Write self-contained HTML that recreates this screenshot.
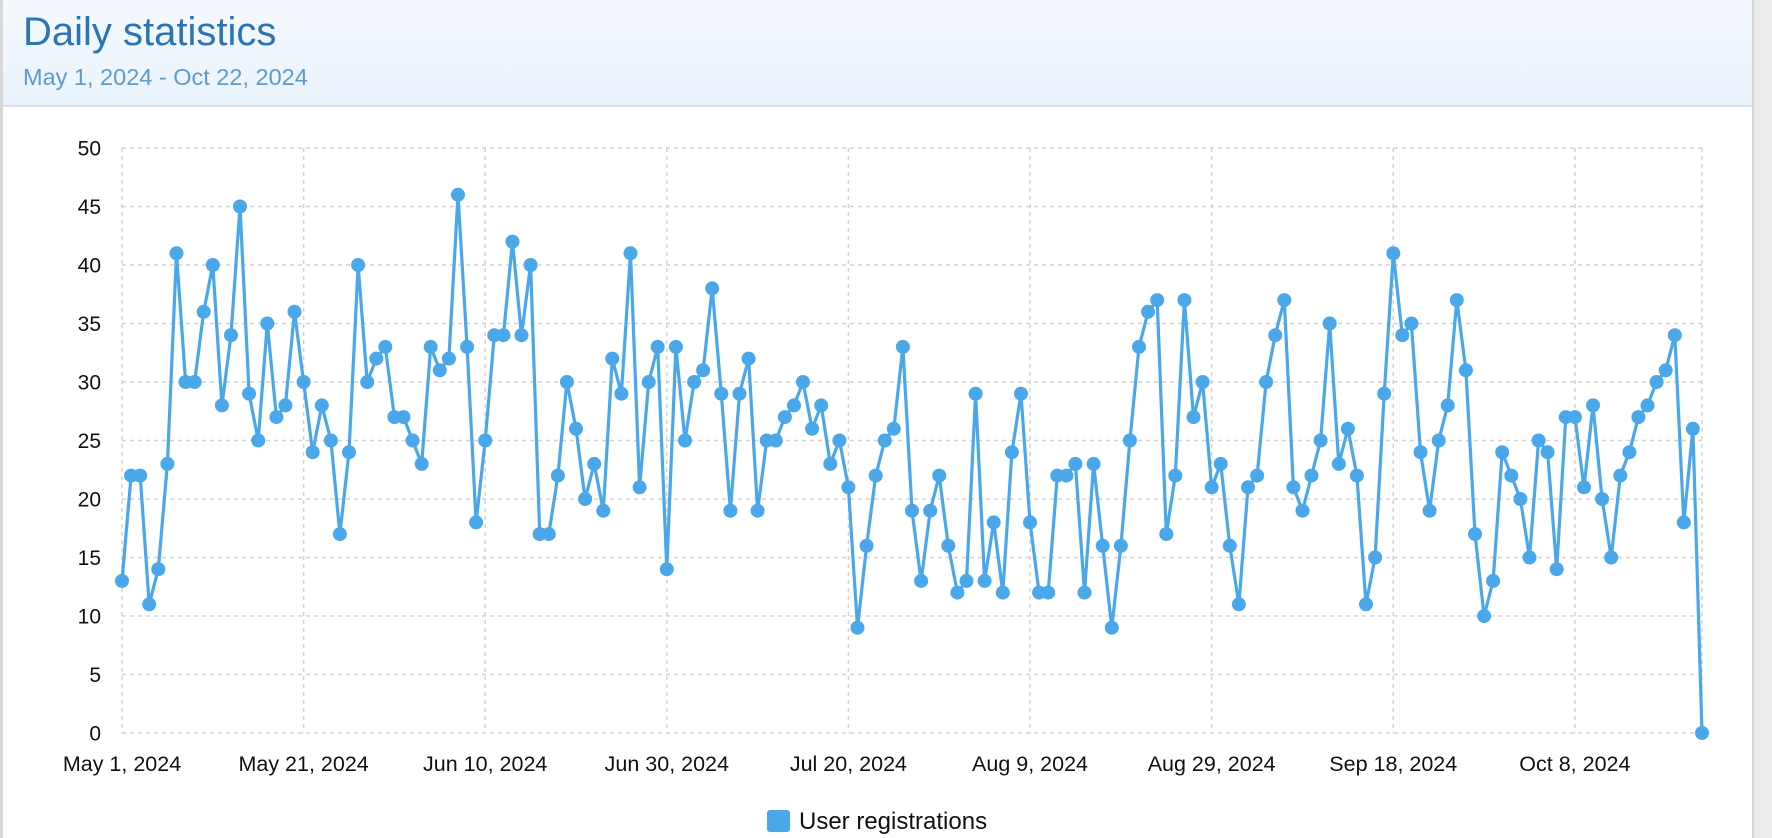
<!DOCTYPE html>
<html><head><meta charset="utf-8"><style>
html,body{margin:0;padding:0;width:1772px;height:838px;overflow:hidden;background:#fff;font-family:"Liberation Sans",Arial,sans-serif}
#rbar{position:absolute;left:1752px;top:0;width:20px;height:838px;background:#ececec;border-left:2px solid #d6d6d6}
#lbar{position:absolute;left:0;top:0;width:3px;height:838px;background:#d8d8d8}
#hdr{position:absolute;left:3px;top:0;width:1749px;height:105px;background:linear-gradient(#f5f9fe,#e9f3fc);border-bottom:2px solid #d9e2ea}
#t1{position:absolute;left:20px;top:9px;font-size:40px;color:#2a76b4;line-height:46px}
#t2{position:absolute;left:20px;top:63px;font-size:23.5px;color:#5e9bcc;line-height:28px}
svg{position:absolute;left:0;top:0}
</style></head><body>
<div id="lbar"></div><div id="hdr"><div id="t1">Daily statistics</div><div id="t2">May 1, 2024 - Oct 22, 2024</div></div><div id="rbar"></div>
<svg id="s" width="1752" height="838" xmlns="http://www.w3.org/2000/svg"></svg>
<script>
var d=[13,22,22,11,14,23,41,30,30,36,40,28,34,45,29,25,35,27,28,36,30,24,28,25,17,24,40,30,32,33,27,27,25,23,33,31,32,46,33,18,25,34,34,42,34,40,17,17,22,30,26,20,23,19,32,29,41,21,30,33,14,33,25,30,31,38,29,19,29,32,19,25,25,27,28,30,26,28,23,25,21,9,16,22,25,26,33,19,13,19,22,16,12,13,29,13,18,12,24,29,18,12,12,22,22,23,12,23,16,9,16,25,33,36,37,17,22,37,27,30,21,23,16,11,21,22,30,34,37,21,19,22,25,35,23,26,22,11,15,29,41,34,35,24,19,25,28,37,31,17,10,13,24,22,20,15,25,24,14,27,27,21,28,20,15,22,24,27,28,30,31,34,18,26,0];
var x0=122,x1=1702,y0=733,y50=148,dx=(x1-x0)/174;
function X(i){return x0+i*dx}function Y(v){return y0-(y0-y50)*v/50}
var s='';
for(var v=0;v<=50;v+=5){var y=Y(v);s+='<line x1="'+x0+'" x2="'+x1+'" y1="'+y+'" y2="'+y+'" stroke="#d3d3d3" stroke-width="1.5" stroke-dasharray="4,4"/>';
s+='<text x="101" y="'+(y+7.5)+'" font-size="21" text-anchor="end" fill="#111">'+v+'</text>';}
var labs=["May 1, 2024","May 21, 2024","Jun 10, 2024","Jun 30, 2024","Jul 20, 2024","Aug 9, 2024","Aug 29, 2024","Sep 18, 2024","Oct 8, 2024"];
for(var k=0;k<9;k++){var x=X(k*20);s+='<line x1="'+x+'" x2="'+x+'" y1="'+y50+'" y2="'+y0+'" stroke="#d3d3d3" stroke-width="1.5" stroke-dasharray="4,4"/>';
s+='<text x="'+x+'" y="771" font-size="21.5" text-anchor="middle" fill="#111">'+labs[k]+'</text>';}
s+='<line x1="'+x1+'" x2="'+x1+'" y1="'+y50+'" y2="'+y0+'" stroke="#d3d3d3" stroke-width="1.5" stroke-dasharray="4,4"/>';
var p=d.map(function(v,i){return X(i).toFixed(1)+','+Y(v).toFixed(1)}).join(' ');
s+='<polyline points="'+p+'" fill="none" stroke="#4aa8ea" stroke-width="3.2" stroke-linejoin="round"/>';
d.forEach(function(v,i){s+='<circle cx="'+X(i).toFixed(1)+'" cy="'+Y(v).toFixed(1)+'" r="7" fill="#4aa8ea"/>'});
s+='<rect x="767" y="810" width="23" height="22" rx="3" fill="#4aa8ea"/><text x="799" y="829" font-size="24" fill="#111">User registrations</text>';
document.getElementById('s').innerHTML=s;
</script>
</body></html>
